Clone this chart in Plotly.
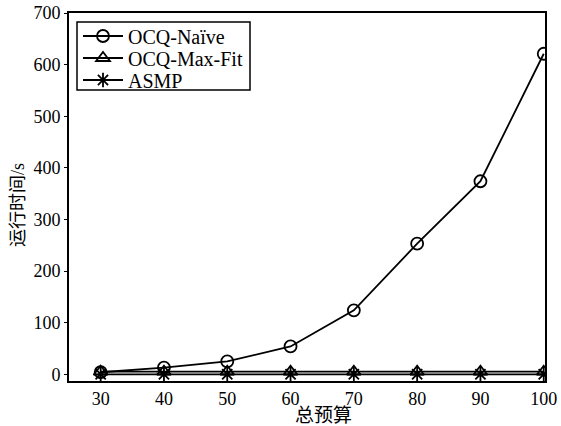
import plotly.graph_objects as go

budget = [30, 40, 50, 60, 70, 80, 90, 100]
ocq_naive = [4, 13, 25, 54, 124, 253, 374, 621]
ocq_maxfit = [5, 5, 5, 5, 5, 5, 5, 5]
asmp = [0, 0, 0, 0, 0, 0, 0, 0]
yticks = [0, 100, 200, 300, 400, 500, 600, 700]
series_names = ["OCQ-Naïve", "OCQ-Max-Fit", "ASMP"]

serif = "Liberation Serif, Times New Roman, Noto Sans CJK SC, serif"
cjk = "Liberation Serif, Noto Sans CJK SC, serif"

W, H = 561, 426
ML, MR, MT, MB = 69, 16, 13, 45
PW, PH = W - ML - MR, H - MT - MB


def px_x(p):
    return (p - ML) / PW


def px_y(p):
    return (H - MB - p) / PH


fig = go.Figure()
fig.add_trace(go.Scatter(x=budget, y=ocq_naive, name=series_names[0], mode="lines+markers",
                         legend="legend",
                         line=dict(color="black", width=1.8),
                         marker=dict(symbol="circle-open", size=12, color="black", line=dict(width=1.8))))
fig.add_trace(go.Scatter(x=budget, y=ocq_maxfit, name=series_names[1], mode="lines+markers",
                         legend="legend2",
                         line=dict(color="black", width=1.8),
                         marker=dict(symbol="triangle-up-open", size=12, color="black", line=dict(width=1.8))))
fig.add_trace(go.Scatter(x=budget, y=asmp, name=series_names[2], mode="lines+markers",
                         legend="legend3",
                         line=dict(color="black", width=1.8),
                         marker=dict(symbol="asterisk-open", size=12, color="black", line=dict(width=1.8, color="black"))))

leg_common = dict(xanchor="left", yanchor="middle", bgcolor="rgba(0,0,0,0)", borderwidth=0,
                  font=dict(family=serif, size=20), itemwidth=40)
row_centers = [36, 58, 80]

fig.update_layout(
    width=W, height=H,
    margin=dict(l=ML, r=MR, t=MT, b=MB, autoexpand=False),
    paper_bgcolor="white", plot_bgcolor="white",
    font=dict(family=serif, size=18, color="black"),
    showlegend=True,
    legend=dict(x=px_x(78), y=px_y(row_centers[0]), **leg_common),
    legend2=dict(x=px_x(78), y=px_y(row_centers[1]), **leg_common),
    legend3=dict(x=px_x(78), y=px_y(row_centers[2]), **leg_common),
    xaxis=dict(range=[25, 100.2], tickvals=budget, showgrid=False, zeroline=False,
               showline=True, linecolor="black", linewidth=2, mirror=True,
               ticks="", automargin=False, tickfont=dict(size=18)),
    yaxis=dict(range=[-13, 700], tickvals=yticks, showgrid=False, zeroline=False,
               showline=True, linecolor="black", linewidth=2, mirror=True,
               ticks="outside", ticklen=3, tickcolor="black", automargin=False,
               tickfont=dict(size=18)),
    shapes=[dict(type="rect", xref="paper", yref="paper",
                 x0=px_x(77), x1=px_x(250), y0=px_y(90), y1=px_y(22),
                 line=dict(color="black", width=1.5), fillcolor="white", layer="below")],
    annotations=[
        dict(text="总预算", xref="paper", yref="paper", x=px_x(323), y=px_y(415),
             xanchor="center", yanchor="middle", showarrow=False,
             font=dict(family=cjk, size=19)),
        dict(text="运行时间/s", xref="paper", yref="paper", x=px_x(18), y=px_y(205),
             xanchor="center", yanchor="middle", showarrow=False, textangle=-90,
             font=dict(family=cjk, size=18)),
    ],
)

fig.write_html("out.html", config={"displayModeBar": False},
               post_script="document.body.style.margin='0';")
